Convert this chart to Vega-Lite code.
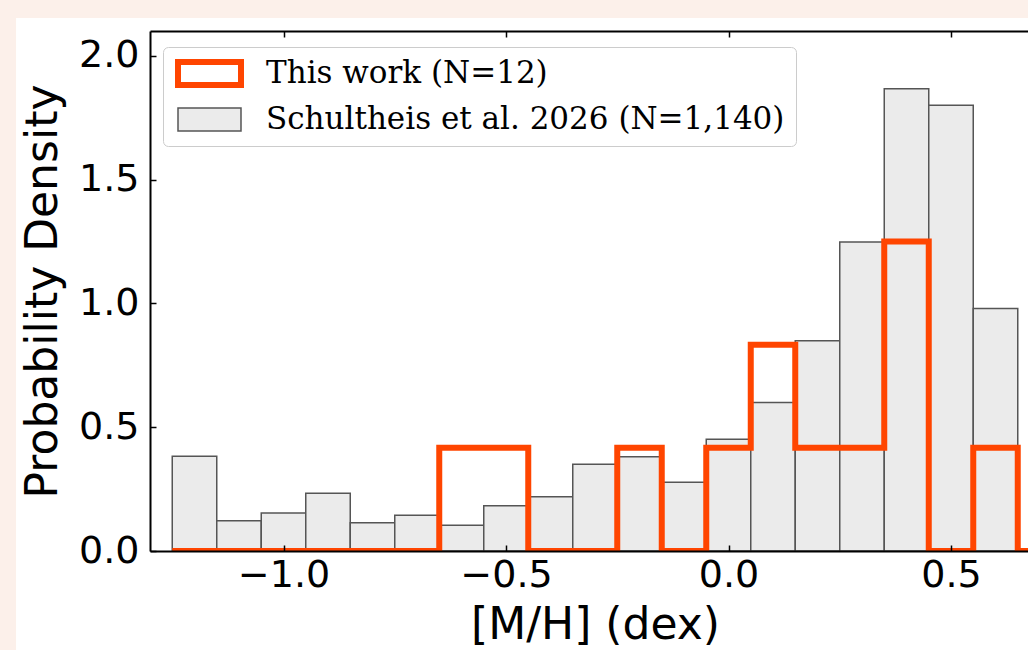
{
  "$schema": "https://vega.github.io/schema/vega-lite/v6.json",
  "width": 890,
  "height": 520,
  "autosize": {"type": "none"},
  "padding": {"left": 150, "top": 31, "right": 0, "bottom": 99},
  "background": "#fcf0ea",
  "config": {
    "view": {"stroke": null},
    "axis": {
      "domainColor": "#000000",
      "domainWidth": 2,
      "tickColor": "#000000",
      "tickWidth": 1.5,
      "tickSize": -6,
      "labelFont": "DejaVu Sans",
      "labelFontSize": 38,
      "labelColor": "#000000",
      "titleFont": "DejaVu Sans",
      "titleFontSize": 44,
      "titleFontWeight": "normal",
      "titleColor": "#000000",
      "grid": false
    },
    "legend": {
      "labelFont": "DejaVu Serif",
      "labelFontSize": 31,
      "labelColor": "#000000",
      "labelLimit": 0,
      "fillColor": "#ffffff",
      "strokeColor": "#cccccc",
      "cornerRadius": 5,
      "padding": 11,
      "rowPadding": 6,
      "zindex": 2
    }
  },
  "datasets": {
    "ref": [
      {"lo": -1.25, "hi": -1.15, "density": 0.383, "series": "Schultheis et al. 2026 (N=1,140)"},
      {"lo": -1.15, "hi": -1.05, "density": 0.122, "series": "Schultheis et al. 2026 (N=1,140)"},
      {"lo": -1.05, "hi": -0.95, "density": 0.153, "series": "Schultheis et al. 2026 (N=1,140)"},
      {"lo": -0.95, "hi": -0.85, "density": 0.233, "series": "Schultheis et al. 2026 (N=1,140)"},
      {"lo": -0.85, "hi": -0.75, "density": 0.114, "series": "Schultheis et al. 2026 (N=1,140)"},
      {"lo": -0.75, "hi": -0.65, "density": 0.144, "series": "Schultheis et al. 2026 (N=1,140)"},
      {"lo": -0.65, "hi": -0.55, "density": 0.104, "series": "Schultheis et al. 2026 (N=1,140)"},
      {"lo": -0.55, "hi": -0.45, "density": 0.183, "series": "Schultheis et al. 2026 (N=1,140)"},
      {"lo": -0.45, "hi": -0.35, "density": 0.219, "series": "Schultheis et al. 2026 (N=1,140)"},
      {"lo": -0.35, "hi": -0.25, "density": 0.350, "series": "Schultheis et al. 2026 (N=1,140)"},
      {"lo": -0.25, "hi": -0.15, "density": 0.381, "series": "Schultheis et al. 2026 (N=1,140)"},
      {"lo": -0.15, "hi": -0.05, "density": 0.278, "series": "Schultheis et al. 2026 (N=1,140)"},
      {"lo": -0.05, "hi": 0.05, "density": 0.451, "series": "Schultheis et al. 2026 (N=1,140)"},
      {"lo": 0.05, "hi": 0.15, "density": 0.600, "series": "Schultheis et al. 2026 (N=1,140)"},
      {"lo": 0.15, "hi": 0.25, "density": 0.849, "series": "Schultheis et al. 2026 (N=1,140)"},
      {"lo": 0.25, "hi": 0.35, "density": 1.248, "series": "Schultheis et al. 2026 (N=1,140)"},
      {"lo": 0.35, "hi": 0.45, "density": 1.867, "series": "Schultheis et al. 2026 (N=1,140)"},
      {"lo": 0.45, "hi": 0.55, "density": 1.800, "series": "Schultheis et al. 2026 (N=1,140)"},
      {"lo": 0.55, "hi": 0.65, "density": 0.979, "series": "Schultheis et al. 2026 (N=1,140)"}
    ],
    "work": [
      {"edge": -1.25, "density": 0, "series": "This work (N=12)"},
      {"edge": -0.65, "density": 0.417, "series": "This work (N=12)"},
      {"edge": -0.45, "density": 0, "series": "This work (N=12)"},
      {"edge": -0.25, "density": 0.417, "series": "This work (N=12)"},
      {"edge": -0.15, "density": 0, "series": "This work (N=12)"},
      {"edge": -0.05, "density": 0.417, "series": "This work (N=12)"},
      {"edge": 0.05, "density": 0.833, "series": "This work (N=12)"},
      {"edge": 0.15, "density": 0.417, "series": "This work (N=12)"},
      {"edge": 0.35, "density": 1.25, "series": "This work (N=12)"},
      {"edge": 0.45, "density": 0, "series": "This work (N=12)"},
      {"edge": 0.55, "density": 0.417, "series": "This work (N=12)"},
      {"edge": 0.65, "density": 0, "series": "This work (N=12)"},
      {"edge": 0.75, "density": 0, "series": "This work (N=12)"}
    ]
  },
  "resolve": {"axis": {"x": "independent"}},
  "layer": [
    {
      "data": {"values": [{}]},
      "mark": {"type": "rect", "fill": "#ffffff", "clip": false},
      "encoding": {
        "x": {"datum": -1.601, "type": "quantitative", "scale": {"domain": [-1.3, 0.7], "nice": false, "zero": false},
              "axis": {"orient": "top", "labels": false, "title": null, "values": [-1, -0.5, 0, 0.5], "domain": true, "zindex": 1}},
        "x2": {"datum": 0.9},
        "y": {"datum": 2.153, "type": "quantitative"},
        "y2": {"datum": -0.6}
      }
    },
    {
      "data": {"name": "ref"},
      "mark": {"type": "rect", "opacity": 1},
      "encoding": {
        "x": {"field": "lo", "type": "quantitative", "scale": {"domain": [-1.3, 0.7], "nice": false, "zero": false},
              "axis": {"title": "[M/H] (dex)", "values": [-1, -0.5, 0, 0.5], "format": ".1f", "labelPadding": 11, "titlePadding": 9, "zindex": 1}},
        "x2": {"field": "hi"},
        "y": {"field": "density", "type": "quantitative", "scale": {"domain": [0, 2.1], "nice": false, "zero": true},
              "axis": {"title": "Probability Density", "values": [0, 0.5, 1, 1.5, 2], "format": ".1f", "labelPadding": 17, "titlePadding": 13, "zindex": 1}},
        "y2": {"datum": 0},
        "fill": {"field": "series", "type": "nominal",
          "scale": {"domain": ["This work (N=12)", "Schultheis et al. 2026 (N=1,140)"], "range": ["#ffffff", "#ebebeb"]},
          "legend": {"title": null, "orient": "none", "legendX": 13, "legendY": 16,
            "symbolType": "M-1,-1H4.478V1H-1Z", "symbolSize": 529, "labelOffset": 61}},
        "stroke": {"field": "series", "type": "nominal",
          "scale": {"domain": ["This work (N=12)", "Schultheis et al. 2026 (N=1,140)"], "range": ["#ff4500", "#555555"]},
          "legend": {"title": null, "orient": "none", "legendX": 13, "legendY": 16,
            "symbolType": "M-1,-1H4.478V1H-1Z", "symbolSize": 529, "labelOffset": 61}},
        "strokeWidth": {"field": "series", "type": "ordinal",
          "scale": {"domain": ["This work (N=12)", "Schultheis et al. 2026 (N=1,140)"], "range": [6, 1.5]},
          "legend": {"title": null, "orient": "none", "legendX": 13, "legendY": 16,
            "symbolType": "M-1,-1H4.478V1H-1Z", "symbolSize": 529, "labelOffset": 61}}
      }
    },
    {
      "data": {"name": "work"},
      "mark": {"type": "line", "interpolate": "step-after", "strokeJoin": "miter", "clip": true},
      "encoding": {
        "x": {"field": "edge", "type": "quantitative", "axis": null},
        "y": {"field": "density", "type": "quantitative"},
        "stroke": {"field": "series", "type": "nominal"},
        "strokeWidth": {"field": "series", "type": "ordinal"}
      }
    }
  ]
}
